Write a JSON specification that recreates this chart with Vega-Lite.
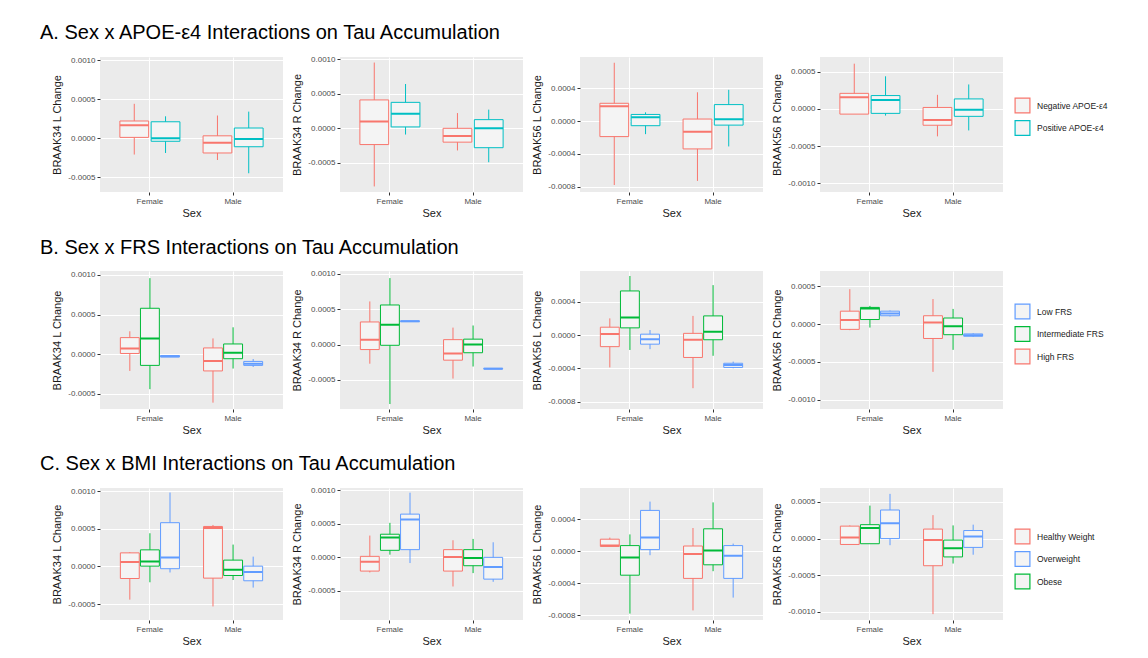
{
"$schema":"https://vega.github.io/schema/vega-lite/v6.json",
"background":"white",
"padding":{"left":40,"top":23,"right":5,"bottom":5},
"bounds":"flush",
"columns":4,
"spacing":{"row":79,"column":57},
"resolve":{"scale":{"x":"independent","y":"independent","xOffset":"independent","stroke":"independent"},"legend":{"stroke":"independent"}},
"data":{"values":[
{"p":"A1","sex":"Female","g":"Negative APOE-ε4","lo":-0.00021,"q1":0.00001,"med":0.000166,"q3":0.00022,"hi":0.00044},
{"p":"A1","sex":"Female","g":"Positive APOE-ε4","lo":-0.00019,"q1":-0.00004,"med":0.0,"q3":0.00021,"hi":0.00028},
{"p":"A1","sex":"Male","g":"Negative APOE-ε4","lo":-0.00028,"q1":-0.00019,"med":-0.00006,"q3":0.00003,"hi":0.00029},
{"p":"A1","sex":"Male","g":"Positive APOE-ε4","lo":-0.00045,"q1":-0.00011,"med":-0.00001,"q3":0.00013,"hi":0.00034},
{"p":"A2","sex":"Female","g":"Negative APOE-ε4","lo":-0.00084,"q1":-0.000235,"med":0.0001,"q3":0.00041,"hi":0.00095},
{"p":"A2","sex":"Female","g":"Positive APOE-ε4","lo":-0.00009,"q1":0.00002,"med":0.00021,"q3":0.000375,"hi":0.00064},
{"p":"A2","sex":"Male","g":"Negative APOE-ε4","lo":-0.00032,"q1":-0.0002,"med":-0.00011,"q3":0.0,"hi":0.00022},
{"p":"A2","sex":"Male","g":"Positive APOE-ε4","lo":-0.00049,"q1":-0.00028,"med":0.0,"q3":0.000125,"hi":0.00027},
{"p":"A3","sex":"Female","g":"Negative APOE-ε4","lo":-0.00078,"q1":-0.00019,"med":0.00018,"q3":0.000216,"hi":0.00071},
{"p":"A3","sex":"Female","g":"Positive APOE-ε4","lo":-0.00016,"q1":-0.000057,"med":0.000045,"q3":0.00008,"hi":0.000106},
{"p":"A3","sex":"Male","g":"Negative APOE-ε4","lo":-0.00073,"q1":-0.00034,"med":-0.00013,"q3":0.000024,"hi":0.00035},
{"p":"A3","sex":"Male","g":"Positive APOE-ε4","lo":-0.00031,"q1":-0.00005,"med":0.00002,"q3":0.0002,"hi":0.00038},
{"p":"A4","sex":"Female","g":"Negative APOE-ε4","lo":-0.00007,"q1":-0.00007,"med":0.000157,"q3":0.00021,"hi":0.00061},
{"p":"A4","sex":"Female","g":"Positive APOE-ε4","lo":-0.00009,"q1":-0.00006,"med":0.00012,"q3":0.00018,"hi":0.00044},
{"p":"A4","sex":"Male","g":"Negative APOE-ε4","lo":-0.00037,"q1":-0.00022,"med":-0.00015,"q3":0.00002,"hi":0.00019},
{"p":"A4","sex":"Male","g":"Positive APOE-ε4","lo":-0.00029,"q1":-0.0001,"med":-0.00001,"q3":0.000135,"hi":0.00033},
{"p":"B1","sex":"Female","g":"High FRS","lo":-0.00021,"q1":0.00001,"med":0.000073,"q3":0.00021,"hi":0.00029},
{"p":"B1","sex":"Female","g":"Intermediate FRS","lo":-0.00044,"q1":-0.00014,"med":0.0002,"q3":0.00058,"hi":0.00096},
{"p":"B1","sex":"Female","g":"Low FRS","lo":-0.000034,"q1":-0.000034,"med":-0.000025,"q3":-0.000017,"hi":-0.000017},
{"p":"B1","sex":"Male","g":"High FRS","lo":-0.00061,"q1":-0.00021,"med":-0.000086,"q3":0.00008,"hi":0.0002},
{"p":"B1","sex":"Male","g":"Intermediate FRS","lo":-0.00018,"q1":-0.000056,"med":0.00002,"q3":0.00013,"hi":0.00034},
{"p":"B1","sex":"Male","g":"Low FRS","lo":-0.00016,"q1":-0.00014,"med":-0.00012,"q3":-0.00009,"hi":-0.00006},
{"p":"B2","sex":"Female","g":"High FRS","lo":-0.00027,"q1":-0.00007,"med":0.00007,"q3":0.00032,"hi":0.00061},
{"p":"B2","sex":"Female","g":"Intermediate FRS","lo":-0.00084,"q1":-0.00001,"med":0.00028,"q3":0.00056,"hi":0.00094},
{"p":"B2","sex":"Female","g":"Low FRS","lo":0.000325,"q1":0.000325,"med":0.00033,"q3":0.000335,"hi":0.000335},
{"p":"B2","sex":"Male","g":"High FRS","lo":-0.00048,"q1":-0.00022,"med":-0.000125,"q3":0.00007,"hi":0.00024},
{"p":"B2","sex":"Male","g":"Intermediate FRS","lo":-0.00031,"q1":-0.000115,"med":0.0,"q3":0.000077,"hi":0.00027},
{"p":"B2","sex":"Male","g":"Low FRS","lo":-0.000345,"q1":-0.000345,"med":-0.00034,"q3":-0.000335,"hi":-0.000335},
{"p":"B3","sex":"Female","g":"High FRS","lo":-0.00039,"q1":-0.00014,"med":0.000012,"q3":0.000094,"hi":0.0002},
{"p":"B3","sex":"Female","g":"Intermediate FRS","lo":-0.00018,"q1":0.000086,"med":0.00021,"q3":0.00053,"hi":0.00071},
{"p":"B3","sex":"Female","g":"Low FRS","lo":-0.00017,"q1":-0.00011,"med":-0.00005,"q3":0.00001,"hi":0.00006},
{"p":"B3","sex":"Male","g":"High FRS","lo":-0.00064,"q1":-0.00027,"med":-0.000057,"q3":0.00002,"hi":0.00023},
{"p":"B3","sex":"Male","g":"Intermediate FRS","lo":-0.00025,"q1":-0.000057,"med":0.00004,"q3":0.00023,"hi":0.0006},
{"p":"B3","sex":"Male","g":"Low FRS","lo":-0.0004,"q1":-0.00039,"med":-0.00036,"q3":-0.00034,"hi":-0.00032},
{"p":"B4","sex":"Female","g":"High FRS","lo":-0.00008,"q1":-0.00007,"med":0.000055,"q3":0.00017,"hi":0.00046},
{"p":"B4","sex":"Female","g":"Intermediate FRS","lo":-0.000046,"q1":0.00006,"med":0.000205,"q3":0.00022,"hi":0.00024},
{"p":"B4","sex":"Female","g":"Low FRS","lo":0.0001,"q1":0.00011,"med":0.00014,"q3":0.00017,"hi":0.00018},
{"p":"B4","sex":"Male","g":"High FRS","lo":-0.00063,"q1":-0.00019,"med":0.00002,"q3":0.00011,"hi":0.00033},
{"p":"B4","sex":"Male","g":"Intermediate FRS","lo":-0.00034,"q1":-0.00014,"med":-0.00003,"q3":0.00008,"hi":0.0002},
{"p":"B4","sex":"Male","g":"Low FRS","lo":-0.00017,"q1":-0.00016,"med":-0.000146,"q3":-0.00013,"hi":-0.00012},
{"p":"C1","sex":"Female","g":"Healthy Weight","lo":-0.00044,"q1":-0.00016,"med":0.00006,"q3":0.00018,"hi":0.00019},
{"p":"C1","sex":"Female","g":"Obese","lo":-0.00021,"q1":0.000004,"med":0.000067,"q3":0.00022,"hi":0.00044},
{"p":"C1","sex":"Female","g":"Overweight","lo":-0.00008,"q1":-0.00003,"med":0.00012,"q3":0.00058,"hi":0.00098},
{"p":"C1","sex":"Male","g":"Healthy Weight","lo":-0.00053,"q1":-0.000155,"med":0.00051,"q3":0.00053,"hi":0.00055},
{"p":"C1","sex":"Male","g":"Obese","lo":-0.00018,"q1":-0.00012,"med":-0.000044,"q3":0.000084,"hi":0.00029},
{"p":"C1","sex":"Male","g":"Overweight","lo":-0.00028,"q1":-0.00019,"med":-0.000075,"q3":0.000004,"hi":0.00013},
{"p":"C2","sex":"Female","g":"Healthy Weight","lo":-0.00023,"q1":-0.00021,"med":-0.00007,"q3":0.00001,"hi":0.00032},
{"p":"C2","sex":"Female","g":"Obese","lo":0.000035,"q1":0.0001,"med":0.00029,"q3":0.00034,"hi":0.00051},
{"p":"C2","sex":"Female","g":"Overweight","lo":-0.00009,"q1":0.00011,"med":0.00056,"q3":0.00064,"hi":0.00096},
{"p":"C2","sex":"Male","g":"Healthy Weight","lo":-0.00044,"q1":-0.00021,"med":0.0,"q3":0.00011,"hi":0.00025},
{"p":"C2","sex":"Male","g":"Obese","lo":-0.00024,"q1":-0.00013,"med":-0.000015,"q3":0.00011,"hi":0.00027},
{"p":"C2","sex":"Male","g":"Overweight","lo":-0.00037,"q1":-0.00033,"med":-0.00015,"q3":-0.000005,"hi":0.00022},
{"p":"C3","sex":"Female","g":"Healthy Weight","lo":0.00006,"q1":0.00006,"med":0.00007,"q3":0.00015,"hi":0.00017},
{"p":"C3","sex":"Female","g":"Obese","lo":-0.00078,"q1":-0.0003,"med":-0.00008,"q3":0.00007,"hi":0.00021},
{"p":"C3","sex":"Female","g":"Overweight","lo":-0.00005,"q1":0.00002,"med":0.00017,"q3":0.00051,"hi":0.00062},
{"p":"C3","sex":"Male","g":"Healthy Weight","lo":-0.00074,"q1":-0.00034,"med":-0.000034,"q3":0.000065,"hi":0.00029},
{"p":"C3","sex":"Male","g":"Obese","lo":-0.00025,"q1":-0.00017,"med":0.00001,"q3":0.00028,"hi":0.00061},
{"p":"C3","sex":"Male","g":"Overweight","lo":-0.00058,"q1":-0.00034,"med":-0.000056,"q3":0.00007,"hi":0.000095},
{"p":"C4","sex":"Female","g":"Healthy Weight","lo":-0.00008,"q1":-0.00008,"med":0.000014,"q3":0.00017,"hi":0.00018},
{"p":"C4","sex":"Female","g":"Obese","lo":-0.00007,"q1":-0.00007,"med":0.000146,"q3":0.00019,"hi":0.00045},
{"p":"C4","sex":"Female","g":"Overweight","lo":-0.00009,"q1":0.0,"med":0.00021,"q3":0.00039,"hi":0.00061},
{"p":"C4","sex":"Male","g":"Healthy Weight","lo":-0.00103,"q1":-0.00037,"med":-0.00002,"q3":0.00013,"hi":0.00032},
{"p":"C4","sex":"Male","g":"Obese","lo":-0.00034,"q1":-0.00025,"med":-0.00013,"q3":-0.00002,"hi":0.00018},
{"p":"C4","sex":"Male","g":"Overweight","lo":-0.00022,"q1":-0.00012,"med":0.00003,"q3":0.00011,"hi":0.00019}
]},
"concat":[
{"width":183,"height":135,"transform":[{"filter":"datum.p=='A1'"}],
"title":{"text":"A. Sex x APOE-ε4 Interactions on Tau Accumulation","dx":-60,"offset":-3,"baseline":"alphabetic"},
"encoding":{"x":{"field":"sex","type":"nominal","title":"Sex","scale":{"type":"band","domain":["Female","Male"],"paddingInner":0,"paddingOuter":0.1},"axis":{"bandPosition":0.5,"grid":true,"gridWidth":1.1,"labelAngle":0}},
"xOffset":{"field":"g","type":"nominal","scale":{"domain":["Negative APOE-ε4","Positive APOE-ε4"],"paddingInner":0.08,"paddingOuter":0.37}},
"stroke":{"field":"g","type":"nominal","scale":{"domain":["Negative APOE-ε4","Positive APOE-ε4"],"range":["#F8766D","#00BFC4"]},"legend":null}},
"layer":[
{"mark":{"type":"bar","fill":"#F4F4F4","strokeWidth":1},"encoding":{"y":{"field":"q1","type":"quantitative","title":"BRAAK34 L Change","scale":{"domain":[-0.00069,0.00104],"nice":false,"zero":false},"axis":{"values":[-0.0005,0,0.0005,0.001,-0.00025,0.00025,0.00075],"labelExpr":"abs(datum.value/0.0005-round(datum.value/0.0005))>0.1 ? '' : replace(format(datum.value,'.4f'),'−','-')","gridWidth":{"condition":{"test":"abs(datum.value/0.0005-round(datum.value/0.0005))>0.1","value":0.5},"value":1.1},"tickOpacity":{"condition":{"test":"abs(datum.value/0.0005-round(datum.value/0.0005))>0.1","value":0},"value":1},"labelOverlap":false}},"y2":{"field":"q3"}}},
{"mark":"rule","encoding":{"y":{"field":"lo","type":"quantitative","title":"BRAAK34 L Change"},"y2":{"field":"q1"}}},
{"mark":"rule","encoding":{"y":{"field":"q3","type":"quantitative","title":"BRAAK34 L Change"},"y2":{"field":"hi"}}},
{"mark":{"type":"bar","fill":"transparent","strokeWidth":2},"encoding":{"y":{"field":"med","type":"quantitative","title":"BRAAK34 L Change"},"y2":{"field":"med"}}}
]},
{"width":183,"height":135,"transform":[{"filter":"datum.p=='A2'"}],
"encoding":{"x":{"field":"sex","type":"nominal","title":"Sex","scale":{"type":"band","domain":["Female","Male"],"paddingInner":0,"paddingOuter":0.1},"axis":{"bandPosition":0.5,"grid":true,"gridWidth":1.1,"labelAngle":0}},
"xOffset":{"field":"g","type":"nominal","scale":{"domain":["Negative APOE-ε4","Positive APOE-ε4"],"paddingInner":0.08,"paddingOuter":0.37}},
"stroke":{"field":"g","type":"nominal","scale":{"domain":["Negative APOE-ε4","Positive APOE-ε4"],"range":["#F8766D","#00BFC4"]},"legend":null}},
"layer":[
{"mark":{"type":"bar","fill":"#F4F4F4","strokeWidth":1},"encoding":{"y":{"field":"q1","type":"quantitative","title":"BRAAK34 R Change","scale":{"domain":[-0.00092,0.00103],"nice":false,"zero":false},"axis":{"values":[-0.0005,0,0.0005,0.001,-0.00025,0.00025,0.00075],"labelExpr":"abs(datum.value/0.0005-round(datum.value/0.0005))>0.1 ? '' : replace(format(datum.value,'.4f'),'−','-')","gridWidth":{"condition":{"test":"abs(datum.value/0.0005-round(datum.value/0.0005))>0.1","value":0.5},"value":1.1},"tickOpacity":{"condition":{"test":"abs(datum.value/0.0005-round(datum.value/0.0005))>0.1","value":0},"value":1},"labelOverlap":false}},"y2":{"field":"q3"}}},
{"mark":"rule","encoding":{"y":{"field":"lo","type":"quantitative","title":"BRAAK34 R Change"},"y2":{"field":"q1"}}},
{"mark":"rule","encoding":{"y":{"field":"q3","type":"quantitative","title":"BRAAK34 R Change"},"y2":{"field":"hi"}}},
{"mark":{"type":"bar","fill":"transparent","strokeWidth":2},"encoding":{"y":{"field":"med","type":"quantitative","title":"BRAAK34 R Change"},"y2":{"field":"med"}}}
]},
{"width":183,"height":135,"transform":[{"filter":"datum.p=='A3'"}],
"encoding":{"x":{"field":"sex","type":"nominal","title":"Sex","scale":{"type":"band","domain":["Female","Male"],"paddingInner":0,"paddingOuter":0.1},"axis":{"bandPosition":0.5,"grid":true,"gridWidth":1.1,"labelAngle":0}},
"xOffset":{"field":"g","type":"nominal","scale":{"domain":["Negative APOE-ε4","Positive APOE-ε4"],"paddingInner":0.08,"paddingOuter":0.37}},
"stroke":{"field":"g","type":"nominal","scale":{"domain":["Negative APOE-ε4","Positive APOE-ε4"],"range":["#F8766D","#00BFC4"]},"legend":null}},
"layer":[
{"mark":{"type":"bar","fill":"#F4F4F4","strokeWidth":1},"encoding":{"y":{"field":"q1","type":"quantitative","title":"BRAAK56 L Change","scale":{"domain":[-0.000865,0.00078],"nice":false,"zero":false},"axis":{"values":[-0.0008,-0.0004,0,0.0004,-0.0006,-0.0002,0.0002,0.0006],"labelExpr":"abs(datum.value/0.0004-round(datum.value/0.0004))>0.1 ? '' : replace(format(datum.value,'.4f'),'−','-')","gridWidth":{"condition":{"test":"abs(datum.value/0.0004-round(datum.value/0.0004))>0.1","value":0.5},"value":1.1},"tickOpacity":{"condition":{"test":"abs(datum.value/0.0004-round(datum.value/0.0004))>0.1","value":0},"value":1},"labelOverlap":false}},"y2":{"field":"q3"}}},
{"mark":"rule","encoding":{"y":{"field":"lo","type":"quantitative","title":"BRAAK56 L Change"},"y2":{"field":"q1"}}},
{"mark":"rule","encoding":{"y":{"field":"q3","type":"quantitative","title":"BRAAK56 L Change"},"y2":{"field":"hi"}}},
{"mark":{"type":"bar","fill":"transparent","strokeWidth":2},"encoding":{"y":{"field":"med","type":"quantitative","title":"BRAAK56 L Change"},"y2":{"field":"med"}}}
]},
{"width":183,"height":135,"transform":[{"filter":"datum.p=='A4'"}],
"encoding":{"x":{"field":"sex","type":"nominal","title":"Sex","scale":{"type":"band","domain":["Female","Male"],"paddingInner":0,"paddingOuter":0.1},"axis":{"bandPosition":0.5,"grid":true,"gridWidth":1.1,"labelAngle":0}},
"xOffset":{"field":"g","type":"nominal","scale":{"domain":["Negative APOE-ε4","Positive APOE-ε4"],"paddingInner":0.08,"paddingOuter":0.37}},
"stroke":{"field":"g","type":"nominal","scale":{"domain":["Negative APOE-ε4","Positive APOE-ε4"],"range":["#F8766D","#00BFC4"]},"legend":{"orient":"none","legendX":194,"legendY":40,"title":null,"symbolType":"square","symbolSize":220,"symbolFillColor":"#F4F4F4","symbolStrokeWidth":1.2,"labelFontSize":8.5,"labelColor":"#1A1A1A","rowPadding":1.5,"labelOffset":6,"padding":0}}},
"layer":[
{"mark":{"type":"bar","fill":"#F4F4F4","strokeWidth":1},"encoding":{"y":{"field":"q1","type":"quantitative","title":"BRAAK56 R Change","scale":{"domain":[-0.00112,0.0007],"nice":false,"zero":false},"axis":{"values":[-0.001,-0.0005,0,0.0005,-0.00075,-0.00025,0.00025],"labelExpr":"abs(datum.value/0.0005-round(datum.value/0.0005))>0.1 ? '' : replace(format(datum.value,'.4f'),'−','-')","gridWidth":{"condition":{"test":"abs(datum.value/0.0005-round(datum.value/0.0005))>0.1","value":0.5},"value":1.1},"tickOpacity":{"condition":{"test":"abs(datum.value/0.0005-round(datum.value/0.0005))>0.1","value":0},"value":1},"labelOverlap":false}},"y2":{"field":"q3"}}},
{"mark":"rule","encoding":{"y":{"field":"lo","type":"quantitative","title":"BRAAK56 R Change"},"y2":{"field":"q1"}}},
{"mark":"rule","encoding":{"y":{"field":"q3","type":"quantitative","title":"BRAAK56 R Change"},"y2":{"field":"hi"}}},
{"mark":{"type":"bar","fill":"transparent","strokeWidth":2},"encoding":{"y":{"field":"med","type":"quantitative","title":"BRAAK56 R Change"},"y2":{"field":"med"}}}
]},
{"width":183,"height":138,"transform":[{"filter":"datum.p=='B1'"}],
"title":{"text":"B. Sex x FRS Interactions on Tau Accumulation","dx":-60,"offset":-3,"baseline":"alphabetic"},
"encoding":{"x":{"field":"sex","type":"nominal","title":"Sex","scale":{"type":"band","domain":["Female","Male"],"paddingInner":0,"paddingOuter":0.1},"axis":{"bandPosition":0.5,"grid":true,"gridWidth":1.1,"labelAngle":0}},
"xOffset":{"field":"g","type":"nominal","scale":{"domain":["High FRS","Intermediate FRS","Low FRS"],"paddingInner":0.06,"paddingOuter":0.6}},
"stroke":{"field":"g","type":"nominal","scale":{"domain":["Low FRS","Intermediate FRS","High FRS"],"range":["#619CFF","#00BA38","#F8766D"]},"legend":null}},
"layer":[
{"mark":{"type":"bar","fill":"#F4F4F4","strokeWidth":1},"encoding":{"y":{"field":"q1","type":"quantitative","title":"BRAAK34 L Change","scale":{"domain":[-0.00069,0.00105],"nice":false,"zero":false},"axis":{"values":[-0.0005,0,0.0005,0.001,-0.00025,0.00025,0.00075],"labelExpr":"abs(datum.value/0.0005-round(datum.value/0.0005))>0.1 ? '' : replace(format(datum.value,'.4f'),'−','-')","gridWidth":{"condition":{"test":"abs(datum.value/0.0005-round(datum.value/0.0005))>0.1","value":0.5},"value":1.1},"tickOpacity":{"condition":{"test":"abs(datum.value/0.0005-round(datum.value/0.0005))>0.1","value":0},"value":1},"labelOverlap":false}},"y2":{"field":"q3"}}},
{"mark":"rule","encoding":{"y":{"field":"lo","type":"quantitative","title":"BRAAK34 L Change"},"y2":{"field":"q1"}}},
{"mark":"rule","encoding":{"y":{"field":"q3","type":"quantitative","title":"BRAAK34 L Change"},"y2":{"field":"hi"}}},
{"mark":{"type":"bar","fill":"transparent","strokeWidth":2},"encoding":{"y":{"field":"med","type":"quantitative","title":"BRAAK34 L Change"},"y2":{"field":"med"}}}
]},
{"width":183,"height":138,"transform":[{"filter":"datum.p=='B2'"}],
"encoding":{"x":{"field":"sex","type":"nominal","title":"Sex","scale":{"type":"band","domain":["Female","Male"],"paddingInner":0,"paddingOuter":0.1},"axis":{"bandPosition":0.5,"grid":true,"gridWidth":1.1,"labelAngle":0}},
"xOffset":{"field":"g","type":"nominal","scale":{"domain":["High FRS","Intermediate FRS","Low FRS"],"paddingInner":0.06,"paddingOuter":0.6}},
"stroke":{"field":"g","type":"nominal","scale":{"domain":["Low FRS","Intermediate FRS","High FRS"],"range":["#619CFF","#00BA38","#F8766D"]},"legend":null}},
"layer":[
{"mark":{"type":"bar","fill":"#F4F4F4","strokeWidth":1},"encoding":{"y":{"field":"q1","type":"quantitative","title":"BRAAK34 R Change","scale":{"domain":[-0.00091,0.00104],"nice":false,"zero":false},"axis":{"values":[-0.0005,0,0.0005,0.001,-0.00025,0.00025,0.00075],"labelExpr":"abs(datum.value/0.0005-round(datum.value/0.0005))>0.1 ? '' : replace(format(datum.value,'.4f'),'−','-')","gridWidth":{"condition":{"test":"abs(datum.value/0.0005-round(datum.value/0.0005))>0.1","value":0.5},"value":1.1},"tickOpacity":{"condition":{"test":"abs(datum.value/0.0005-round(datum.value/0.0005))>0.1","value":0},"value":1},"labelOverlap":false}},"y2":{"field":"q3"}}},
{"mark":"rule","encoding":{"y":{"field":"lo","type":"quantitative","title":"BRAAK34 R Change"},"y2":{"field":"q1"}}},
{"mark":"rule","encoding":{"y":{"field":"q3","type":"quantitative","title":"BRAAK34 R Change"},"y2":{"field":"hi"}}},
{"mark":{"type":"bar","fill":"transparent","strokeWidth":2},"encoding":{"y":{"field":"med","type":"quantitative","title":"BRAAK34 R Change"},"y2":{"field":"med"}}}
]},
{"width":183,"height":138,"transform":[{"filter":"datum.p=='B3'"}],
"encoding":{"x":{"field":"sex","type":"nominal","title":"Sex","scale":{"type":"band","domain":["Female","Male"],"paddingInner":0,"paddingOuter":0.1},"axis":{"bandPosition":0.5,"grid":true,"gridWidth":1.1,"labelAngle":0}},
"xOffset":{"field":"g","type":"nominal","scale":{"domain":["High FRS","Intermediate FRS","Low FRS"],"paddingInner":0.06,"paddingOuter":0.6}},
"stroke":{"field":"g","type":"nominal","scale":{"domain":["Low FRS","Intermediate FRS","High FRS"],"range":["#619CFF","#00BA38","#F8766D"]},"legend":null}},
"layer":[
{"mark":{"type":"bar","fill":"#F4F4F4","strokeWidth":1},"encoding":{"y":{"field":"q1","type":"quantitative","title":"BRAAK56 L Change","scale":{"domain":[-0.00089,0.00077],"nice":false,"zero":false},"axis":{"values":[-0.0008,-0.0004,0,0.0004,-0.0006,-0.0002,0.0002,0.0006],"labelExpr":"abs(datum.value/0.0004-round(datum.value/0.0004))>0.1 ? '' : replace(format(datum.value,'.4f'),'−','-')","gridWidth":{"condition":{"test":"abs(datum.value/0.0004-round(datum.value/0.0004))>0.1","value":0.5},"value":1.1},"tickOpacity":{"condition":{"test":"abs(datum.value/0.0004-round(datum.value/0.0004))>0.1","value":0},"value":1},"labelOverlap":false}},"y2":{"field":"q3"}}},
{"mark":"rule","encoding":{"y":{"field":"lo","type":"quantitative","title":"BRAAK56 L Change"},"y2":{"field":"q1"}}},
{"mark":"rule","encoding":{"y":{"field":"q3","type":"quantitative","title":"BRAAK56 L Change"},"y2":{"field":"hi"}}},
{"mark":{"type":"bar","fill":"transparent","strokeWidth":2},"encoding":{"y":{"field":"med","type":"quantitative","title":"BRAAK56 L Change"},"y2":{"field":"med"}}}
]},
{"width":183,"height":138,"transform":[{"filter":"datum.p=='B4'"}],
"encoding":{"x":{"field":"sex","type":"nominal","title":"Sex","scale":{"type":"band","domain":["Female","Male"],"paddingInner":0,"paddingOuter":0.1},"axis":{"bandPosition":0.5,"grid":true,"gridWidth":1.1,"labelAngle":0}},
"xOffset":{"field":"g","type":"nominal","scale":{"domain":["High FRS","Intermediate FRS","Low FRS"],"paddingInner":0.06,"paddingOuter":0.6}},
"stroke":{"field":"g","type":"nominal","scale":{"domain":["Low FRS","Intermediate FRS","High FRS"],"range":["#619CFF","#00BA38","#F8766D"]},"legend":{"orient":"none","legendX":194,"legendY":32,"title":null,"symbolType":"square","symbolSize":220,"symbolFillColor":"#F4F4F4","symbolStrokeWidth":1.2,"labelFontSize":8.5,"labelColor":"#1A1A1A","rowPadding":1.5,"labelOffset":6,"padding":0}}},
"layer":[
{"mark":{"type":"bar","fill":"#F4F4F4","strokeWidth":1},"encoding":{"y":{"field":"q1","type":"quantitative","title":"BRAAK56 R Change","scale":{"domain":[-0.00112,0.0007],"nice":false,"zero":false},"axis":{"values":[-0.001,-0.0005,0,0.0005,-0.00075,-0.00025,0.00025],"labelExpr":"abs(datum.value/0.0005-round(datum.value/0.0005))>0.1 ? '' : replace(format(datum.value,'.4f'),'−','-')","gridWidth":{"condition":{"test":"abs(datum.value/0.0005-round(datum.value/0.0005))>0.1","value":0.5},"value":1.1},"tickOpacity":{"condition":{"test":"abs(datum.value/0.0005-round(datum.value/0.0005))>0.1","value":0},"value":1},"labelOverlap":false}},"y2":{"field":"q3"}}},
{"mark":"rule","encoding":{"y":{"field":"lo","type":"quantitative","title":"BRAAK56 R Change"},"y2":{"field":"q1"}}},
{"mark":"rule","encoding":{"y":{"field":"q3","type":"quantitative","title":"BRAAK56 R Change"},"y2":{"field":"hi"}}},
{"mark":{"type":"bar","fill":"transparent","strokeWidth":2},"encoding":{"y":{"field":"med","type":"quantitative","title":"BRAAK56 R Change"},"y2":{"field":"med"}}}
]},
{"width":183,"height":132,"transform":[{"filter":"datum.p=='C1'"}],
"title":{"text":"C. Sex x BMI Interactions on Tau Accumulation","dx":-60,"offset":-3,"baseline":"alphabetic"},
"encoding":{"x":{"field":"sex","type":"nominal","title":"Sex","scale":{"type":"band","domain":["Female","Male"],"paddingInner":0,"paddingOuter":0.1},"axis":{"bandPosition":0.5,"grid":true,"gridWidth":1.1,"labelAngle":0}},
"xOffset":{"field":"g","type":"nominal","scale":{"domain":["Healthy Weight","Obese","Overweight"],"paddingInner":0.06,"paddingOuter":0.6}},
"stroke":{"field":"g","type":"nominal","scale":{"domain":["Healthy Weight","Overweight","Obese"],"range":["#F8766D","#619CFF","#00BA38"]},"legend":null}},
"layer":[
{"mark":{"type":"bar","fill":"#F4F4F4","strokeWidth":1},"encoding":{"y":{"field":"q1","type":"quantitative","title":"BRAAK34 L Change","scale":{"domain":[-0.00071,0.00104],"nice":false,"zero":false},"axis":{"values":[-0.0005,0,0.0005,0.001,-0.00025,0.00025,0.00075],"labelExpr":"abs(datum.value/0.0005-round(datum.value/0.0005))>0.1 ? '' : replace(format(datum.value,'.4f'),'−','-')","gridWidth":{"condition":{"test":"abs(datum.value/0.0005-round(datum.value/0.0005))>0.1","value":0.5},"value":1.1},"tickOpacity":{"condition":{"test":"abs(datum.value/0.0005-round(datum.value/0.0005))>0.1","value":0},"value":1},"labelOverlap":false}},"y2":{"field":"q3"}}},
{"mark":"rule","encoding":{"y":{"field":"lo","type":"quantitative","title":"BRAAK34 L Change"},"y2":{"field":"q1"}}},
{"mark":"rule","encoding":{"y":{"field":"q3","type":"quantitative","title":"BRAAK34 L Change"},"y2":{"field":"hi"}}},
{"mark":{"type":"bar","fill":"transparent","strokeWidth":2},"encoding":{"y":{"field":"med","type":"quantitative","title":"BRAAK34 L Change"},"y2":{"field":"med"}}}
]},
{"width":183,"height":132,"transform":[{"filter":"datum.p=='C2'"}],
"encoding":{"x":{"field":"sex","type":"nominal","title":"Sex","scale":{"type":"band","domain":["Female","Male"],"paddingInner":0,"paddingOuter":0.1},"axis":{"bandPosition":0.5,"grid":true,"gridWidth":1.1,"labelAngle":0}},
"xOffset":{"field":"g","type":"nominal","scale":{"domain":["Healthy Weight","Obese","Overweight"],"paddingInner":0.06,"paddingOuter":0.6}},
"stroke":{"field":"g","type":"nominal","scale":{"domain":["Healthy Weight","Overweight","Obese"],"range":["#F8766D","#619CFF","#00BA38"]},"legend":null}},
"layer":[
{"mark":{"type":"bar","fill":"#F4F4F4","strokeWidth":1},"encoding":{"y":{"field":"q1","type":"quantitative","title":"BRAAK34 R Change","scale":{"domain":[-0.00094,0.00103],"nice":false,"zero":false},"axis":{"values":[-0.0005,0,0.0005,0.001,-0.00025,0.00025,0.00075],"labelExpr":"abs(datum.value/0.0005-round(datum.value/0.0005))>0.1 ? '' : replace(format(datum.value,'.4f'),'−','-')","gridWidth":{"condition":{"test":"abs(datum.value/0.0005-round(datum.value/0.0005))>0.1","value":0.5},"value":1.1},"tickOpacity":{"condition":{"test":"abs(datum.value/0.0005-round(datum.value/0.0005))>0.1","value":0},"value":1},"labelOverlap":false}},"y2":{"field":"q3"}}},
{"mark":"rule","encoding":{"y":{"field":"lo","type":"quantitative","title":"BRAAK34 R Change"},"y2":{"field":"q1"}}},
{"mark":"rule","encoding":{"y":{"field":"q3","type":"quantitative","title":"BRAAK34 R Change"},"y2":{"field":"hi"}}},
{"mark":{"type":"bar","fill":"transparent","strokeWidth":2},"encoding":{"y":{"field":"med","type":"quantitative","title":"BRAAK34 R Change"},"y2":{"field":"med"}}}
]},
{"width":183,"height":132,"transform":[{"filter":"datum.p=='C3'"}],
"encoding":{"x":{"field":"sex","type":"nominal","title":"Sex","scale":{"type":"band","domain":["Female","Male"],"paddingInner":0,"paddingOuter":0.1},"axis":{"bandPosition":0.5,"grid":true,"gridWidth":1.1,"labelAngle":0}},
"xOffset":{"field":"g","type":"nominal","scale":{"domain":["Healthy Weight","Obese","Overweight"],"paddingInner":0.06,"paddingOuter":0.6}},
"stroke":{"field":"g","type":"nominal","scale":{"domain":["Healthy Weight","Overweight","Obese"],"range":["#F8766D","#619CFF","#00BA38"]},"legend":null}},
"layer":[
{"mark":{"type":"bar","fill":"#F4F4F4","strokeWidth":1},"encoding":{"y":{"field":"q1","type":"quantitative","title":"BRAAK56 L Change","scale":{"domain":[-0.00086,0.00079],"nice":false,"zero":false},"axis":{"values":[-0.0008,-0.0004,0,0.0004,-0.0006,-0.0002,0.0002,0.0006],"labelExpr":"abs(datum.value/0.0004-round(datum.value/0.0004))>0.1 ? '' : replace(format(datum.value,'.4f'),'−','-')","gridWidth":{"condition":{"test":"abs(datum.value/0.0004-round(datum.value/0.0004))>0.1","value":0.5},"value":1.1},"tickOpacity":{"condition":{"test":"abs(datum.value/0.0004-round(datum.value/0.0004))>0.1","value":0},"value":1},"labelOverlap":false}},"y2":{"field":"q3"}}},
{"mark":"rule","encoding":{"y":{"field":"lo","type":"quantitative","title":"BRAAK56 L Change"},"y2":{"field":"q1"}}},
{"mark":"rule","encoding":{"y":{"field":"q3","type":"quantitative","title":"BRAAK56 L Change"},"y2":{"field":"hi"}}},
{"mark":{"type":"bar","fill":"transparent","strokeWidth":2},"encoding":{"y":{"field":"med","type":"quantitative","title":"BRAAK56 L Change"},"y2":{"field":"med"}}}
]},
{"width":183,"height":132,"transform":[{"filter":"datum.p=='C4'"}],
"encoding":{"x":{"field":"sex","type":"nominal","title":"Sex","scale":{"type":"band","domain":["Female","Male"],"paddingInner":0,"paddingOuter":0.1},"axis":{"bandPosition":0.5,"grid":true,"gridWidth":1.1,"labelAngle":0}},
"xOffset":{"field":"g","type":"nominal","scale":{"domain":["Healthy Weight","Obese","Overweight"],"paddingInner":0.06,"paddingOuter":0.6}},
"stroke":{"field":"g","type":"nominal","scale":{"domain":["Healthy Weight","Overweight","Obese"],"range":["#F8766D","#619CFF","#00BA38"]},"legend":{"orient":"none","legendX":194,"legendY":40,"title":null,"symbolType":"square","symbolSize":220,"symbolFillColor":"#F4F4F4","symbolStrokeWidth":1.2,"labelFontSize":8.5,"labelColor":"#1A1A1A","rowPadding":1.5,"labelOffset":6,"padding":0}}},
"layer":[
{"mark":{"type":"bar","fill":"#F4F4F4","strokeWidth":1},"encoding":{"y":{"field":"q1","type":"quantitative","title":"BRAAK56 R Change","scale":{"domain":[-0.00111,0.00069],"nice":false,"zero":false},"axis":{"values":[-0.001,-0.0005,0,0.0005,-0.00075,-0.00025,0.00025],"labelExpr":"abs(datum.value/0.0005-round(datum.value/0.0005))>0.1 ? '' : replace(format(datum.value,'.4f'),'−','-')","gridWidth":{"condition":{"test":"abs(datum.value/0.0005-round(datum.value/0.0005))>0.1","value":0.5},"value":1.1},"tickOpacity":{"condition":{"test":"abs(datum.value/0.0005-round(datum.value/0.0005))>0.1","value":0},"value":1},"labelOverlap":false}},"y2":{"field":"q3"}}},
{"mark":"rule","encoding":{"y":{"field":"lo","type":"quantitative","title":"BRAAK56 R Change"},"y2":{"field":"q1"}}},
{"mark":"rule","encoding":{"y":{"field":"q3","type":"quantitative","title":"BRAAK56 R Change"},"y2":{"field":"hi"}}},
{"mark":{"type":"bar","fill":"transparent","strokeWidth":2},"encoding":{"y":{"field":"med","type":"quantitative","title":"BRAAK56 R Change"},"y2":{"field":"med"}}}
]}
],
"config":{
"font":"Liberation Sans",
"view":{"fill":"#EBEBEB","stroke":null},
"axis":{"domain":false,"grid":true,"gridColor":"#FFFFFF","tickColor":"#333333","tickSize":3,"labelColor":"#4D4D4D","labelFontSize":8,"labelFont":"Liberation Sans","titleFont":"Liberation Sans","titleFontSize":11,"titleFontWeight":"normal","titleColor":"#1A1A1A","labelPadding":2},
"axisX":{"titlePadding":2},
"axisY":{"titlePadding":5},
"title":{"font":"Liberation Sans","fontSize":20,"fontWeight":"normal","color":"#000000","anchor":"start","frame":"group"}
}
}
